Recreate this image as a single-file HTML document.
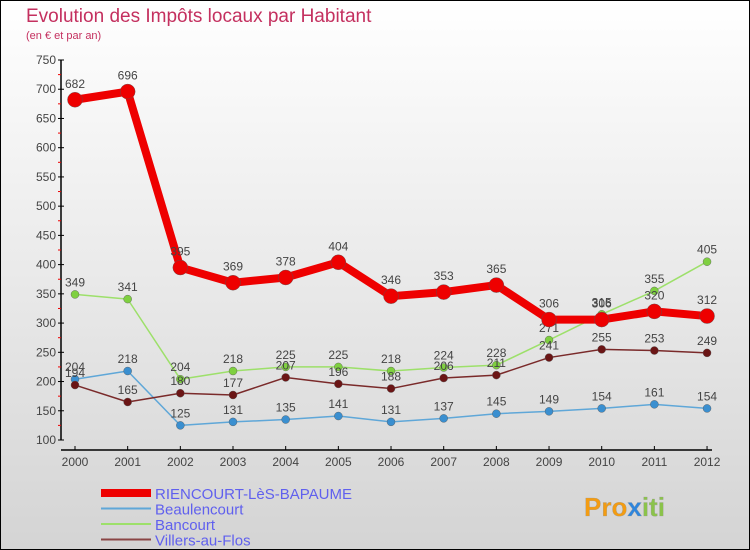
<!DOCTYPE html>
<html><head><meta charset="utf-8"><style>
body{margin:0;}
#c{width:750px;height:550px;position:relative;background:linear-gradient(#ffffff,#d4d4d4);font-family:"Liberation Sans",sans-serif;}
</style></head><body>
<div id="c">
<svg id="s" width="750" height="550" xmlns="http://www.w3.org/2000/svg" style="position:absolute;left:0;top:0;font-family:'Liberation Sans',sans-serif">
<rect x="0.5" y="0.5" width="749" height="549" fill="none" stroke="#000"/>
<text x="26" y="22" font-size="19" fill="#c4305f">Evolution des Impôts locaux par Habitant</text>
<text x="26" y="39" font-size="11" fill="#c4305f">(en € et par an)</text>
<g id="g"></g>
<text x="584" y="516" font-size="26" font-weight="bold" fill="#f39c12" stroke="#999" stroke-width="0.3">Pro<tspan fill="#2e86de">x</tspan><tspan fill="#8bc34a">iti</tspan></text>
</svg>
</div>
<script>
const years=[2000,2001,2002,2003,2004,2005,2006,2007,2008,2009,2010,2011,2012];
const yTicks=[100,150,200,250,300,350,400,450,500,550,600,650,700,750];
const riencourt=[682,696,395,369,378,404,346,353,365,306,306,320,312];
const beaulencourt=[204,218,125,131,135,141,131,137,145,149,154,161,154];
const bancourt=[349,341,204,218,225,225,218,224,228,271,315,355,405];
const villers=[194,165,180,177,207,196,188,206,211,241,255,253,249];
const seriesNames=["RIENCOURT-LèS-BAPAUME","Beaulencourt","Bancourt","Villers-au-Flos"];
const NS="http://www.w3.org/2000/svg";
const g=document.getElementById('g');
const X=i=>75+i*52.67;
const Y=v=>440-(v-100)*380/650;
function mk(t,a,p){const e=document.createElementNS(NS,t);for(const k in a)e.setAttribute(k,a[k]);(p||g).appendChild(e);return e;}
let ax=mk('line',{x1:61,y1:60,x2:61,y2:440,stroke:'#000','stroke-width':1.5});


let xa=mk('line',{x1:61,y1:450,x2:712,y2:450,stroke:'#000','stroke-width':1.5});


yTicks.forEach(v=>{
 mk('line',{x1:58,y1:Y(v),x2:64,y2:Y(v),stroke:'#000'});
 if(v<750)mk('line',{x1:58,y1:Y(v+25),x2:61,y2:Y(v+25),stroke:'#e00'});
 const t=mk('text',{x:56,y:Y(v)+4,'font-size':12,'text-anchor':'end',fill:'#444'});t.textContent=v;
 
 
});
years.forEach((y,i)=>{
 mk('line',{x1:X(i),y1:446,x2:X(i),y2:450,stroke:'#000'});
 const t=mk('text',{x:X(i),y:466,'font-size':12,'text-anchor':'middle',fill:'#444'});t.textContent=y;
 
 
});
function series(d,col,dot,w,r,name){
 const pl=mk('polyline',{points:d.map((v,i)=>X(i)+','+Y(v)).join(' '),fill:'none',stroke:col,'stroke-width':w,'stroke-linejoin':'round'});
 
 
 d.forEach((v,i)=>{
  const c=mk('circle',{cx:X(i),cy:Y(v),r:r,fill:dot,stroke:'#555','stroke-width':0.4});
  
  
  const t=mk('text',{x:X(i),y:Y(v)-8-(r>4?4:0),'font-size':12,'text-anchor':'middle',fill:'#444'});t.textContent=v;
  
  
 });
}
series(beaulencourt,'#5fa7d8','#3a8fd0',1.5,4,'beaulencourt');
series(bancourt,'#9de06a','#7fd040',1.5,4,'bancourt');
series(villers,'#7a2a2a','#6b1515',1.5,4,'villers');
series(riencourt,'#ee0000','#ee0000',8,7.5,'riencourt');
const lc=['#ee0000','#5fa7d8','#9de06a','#8a4545'],lw=[8,2,2,2];
seriesNames.forEach((n,i)=>{
 const y=493+i*15.5;
 const l=mk('line',{x1:101,y1:y,x2:151,y2:y,stroke:lc[i],'stroke-width':lw[i]});
 
 
 const t=mk('text',{x:155,y:y+6,'font-size':15,fill:'#6060ee'});t.textContent=n;
 
 
});
</script>
</body></html>
